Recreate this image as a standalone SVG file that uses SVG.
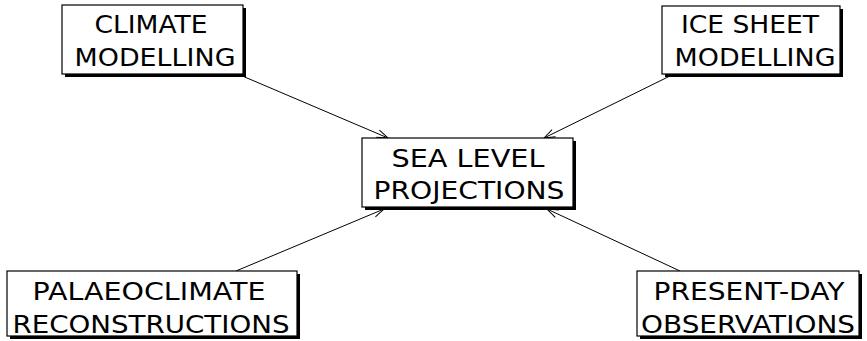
<svg xmlns="http://www.w3.org/2000/svg" width="867" height="341" viewBox="0 0 867 341">
<style>
.sh{fill:#000}
.bx{fill:#fff;stroke:#000;stroke-width:1.2}
.t{font-family:"DejaVu Sans",sans-serif;font-size:25.5px;fill:#000;text-anchor:middle}
.c{stroke:#000;stroke-width:1;fill:none;marker-end:url(#ah)}
</style>
<defs>
<marker id="ah" markerUnits="userSpaceOnUse" markerWidth="14" markerHeight="12" refX="12" refY="5" orient="auto">
<path d="M1,1 L12,5 L1,9" fill="none" stroke="#000" stroke-width="1"/>
</marker>
</defs>
<g id="connectors">
<line class="c" x1="240" y1="75" x2="388" y2="138"/>
<line class="c" x1="672" y1="75" x2="544" y2="138"/>
<line class="c" x1="236" y1="271" x2="384" y2="209"/>
<line class="c" x1="680" y1="271" x2="547" y2="209"/>
</g>
<g id="climate">
<rect class="sh" x="65" y="8" width="181" height="69"/>
<rect class="bx" x="62" y="5" width="181" height="69"/>
<text class="t" x="151" y="33" textLength="113" lengthAdjust="spacingAndGlyphs">CLIMATE</text>
<text class="t" x="155" y="66" textLength="161" lengthAdjust="spacingAndGlyphs">MODELLING</text>
</g>
<g id="icesheet">
<rect class="sh" x="665" y="9" width="178" height="68"/>
<rect class="bx" x="662" y="6" width="178" height="68"/>
<text class="t" x="750" y="33" textLength="138" lengthAdjust="spacingAndGlyphs">ICE SHEET</text>
<text class="t" x="755" y="66" textLength="161" lengthAdjust="spacingAndGlyphs">MODELLING</text>
</g>
<g id="sealevel">
<rect class="sh" x="365" y="141" width="211" height="69"/>
<rect class="bx" x="362" y="138" width="211" height="69"/>
<text class="t" x="468" y="167" textLength="153" lengthAdjust="spacingAndGlyphs">SEA LEVEL</text>
<text class="t" x="469" y="199" textLength="191" lengthAdjust="spacingAndGlyphs">PROJECTIONS</text>
</g>
<g id="palaeo">
<rect class="sh" x="10" y="274" width="290" height="65"/>
<rect class="bx" x="7" y="271" width="290" height="65"/>
<text class="t" x="149" y="300" textLength="233" lengthAdjust="spacingAndGlyphs">PALAEOCLIMATE</text>
<text class="t" x="151" y="333" textLength="277" lengthAdjust="spacingAndGlyphs">RECONSTRUCTIONS</text>
</g>
<g id="present">
<rect class="sh" x="640" y="274" width="222" height="65"/>
<rect class="bx" x="637" y="271" width="222" height="65"/>
<text class="t" x="749" y="300" textLength="191" lengthAdjust="spacingAndGlyphs">PRESENT-DAY</text>
<text class="t" x="748" y="333" textLength="214" lengthAdjust="spacingAndGlyphs">OBSERVATIONS</text>
</g>
</svg>
